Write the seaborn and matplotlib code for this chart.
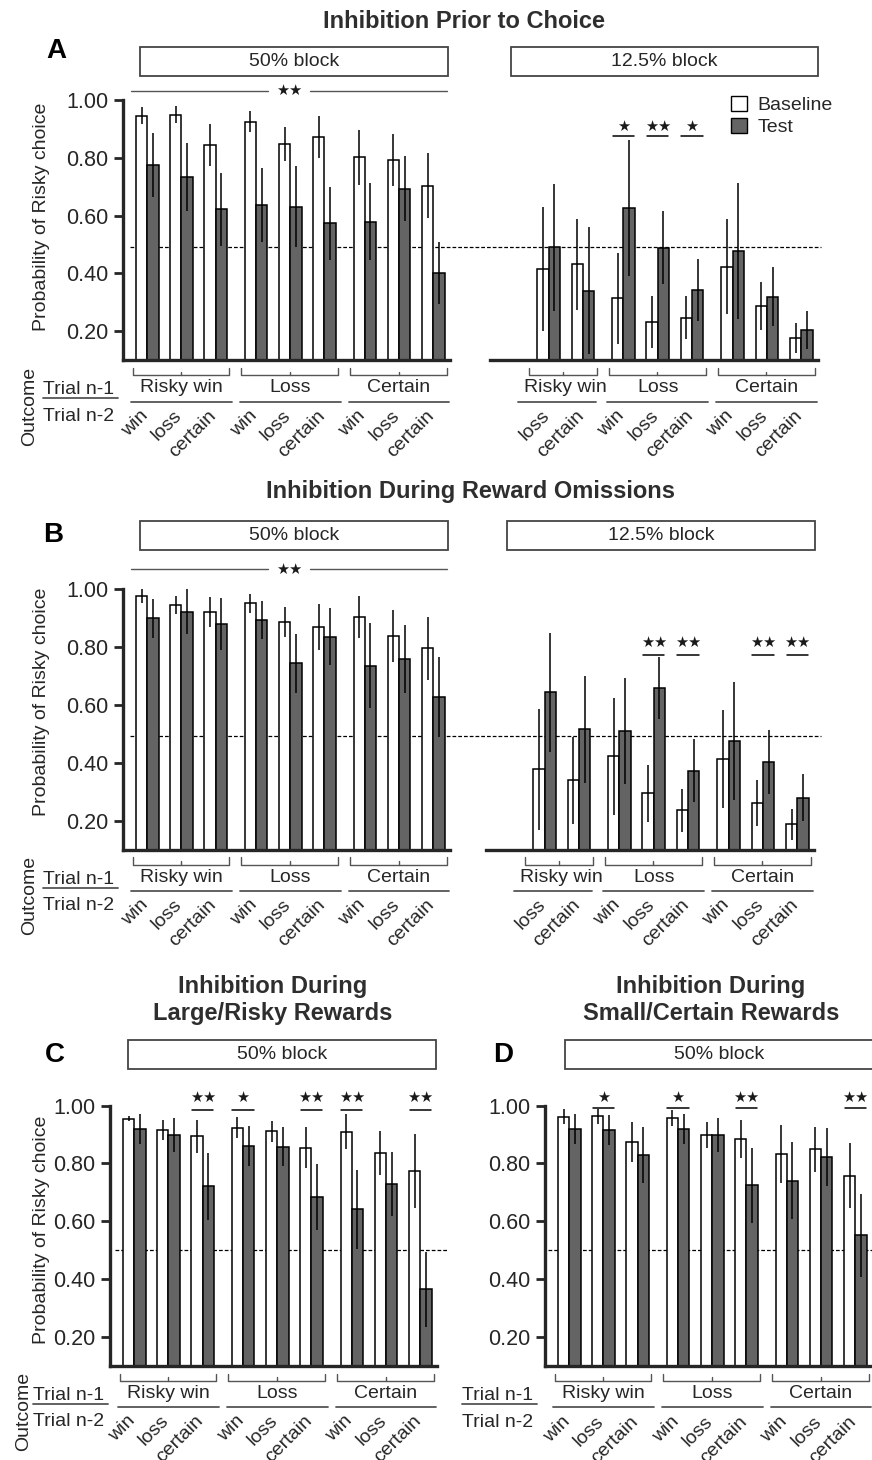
import numpy as np
import pandas as pd
import matplotlib
matplotlib.use("Agg")
import matplotlib.pyplot as plt
import matplotlib.transforms as mtransforms
from matplotlib.patches import Rectangle, Patch
from matplotlib.lines import Line2D
from matplotlib.ticker import FormatStrFormatter
import seaborn as sns

sns.set_style("ticks")
plt.rcParams["font.family"] = ["Liberation Sans", "DejaVu Sans"]

W, H = 872, 1460
TXT = "#262626"
TEST_GREY = "#646464"
GREY_LINE = "#555555"

# outcome of trial n-1 (groups) and trial n-2 (bars inside a group)
prev1 = ["Risky win", "Loss", "Certain"]
prev2 = ["win", "loss", "certain"]
cells_50 = [(g, s) for g in prev1 for s in prev2]
cells_12 = cells_50[1:]  # 12.5% block has no risky win -> win cell

# A: inhibition prior to choice, 50% block
a50_base = [0.946, 0.949, 0.844, 0.925, 0.848, 0.871, 0.801, 0.792, 0.703]
a50_base_err = [0.029, 0.030, 0.073, 0.037, 0.060, 0.073, 0.095, 0.090, 0.113]
a50_test = [0.775, 0.734, 0.621, 0.636, 0.631, 0.573, 0.579, 0.693, 0.402]
a50_test_err = [0.110, 0.118, 0.126, 0.127, 0.140, 0.127, 0.134, 0.113, 0.108]
# A: 12.5% block
a12_base = [0.414, 0.431, 0.313, 0.232, 0.247, 0.423, 0.287, 0.177]
a12_base_err = [0.215, 0.157, 0.158, 0.090, 0.076, 0.165, 0.083, 0.052]
a12_test = [0.490, 0.340, 0.625, 0.489, 0.342, 0.477, 0.319, 0.203]
a12_test_err = [0.219, 0.220, 0.235, 0.126, 0.108, 0.234, 0.103, 0.065]
a12_sig = [(("Loss", "win"), 1), (("Loss", "loss"), 2), (("Loss", "certain"), 1)]

# B: inhibition during reward omissions, 50% block
b50_base = [0.977, 0.946, 0.922, 0.952, 0.887, 0.870, 0.904, 0.839, 0.796]
b50_base_err = [0.023, 0.030, 0.052, 0.033, 0.053, 0.080, 0.073, 0.091, 0.109]
b50_test = [0.900, 0.923, 0.881, 0.894, 0.744, 0.837, 0.736, 0.760, 0.628]
b50_test_err = [0.068, 0.077, 0.090, 0.067, 0.103, 0.098, 0.147, 0.117, 0.140]
# B: 12.5% block
b12_base = [0.377, 0.340, 0.423, 0.294, 0.236, 0.413, 0.262, 0.187]
b12_base_err = [0.209, 0.150, 0.202, 0.100, 0.075, 0.170, 0.079, 0.054]
b12_test = [0.644, 0.516, 0.510, 0.658, 0.373, 0.475, 0.404, 0.280]
b12_test_err = [0.207, 0.186, 0.183, 0.107, 0.110, 0.205, 0.111, 0.080]
b12_sig = [(("Loss", "loss"), 2), (("Loss", "certain"), 2),
           (("Certain", "loss"), 2), (("Certain", "certain"), 2)]

# C: inhibition during large/risky rewards, 50% block
c50_base = [0.955, 0.916, 0.893, 0.923, 0.911, 0.854, 0.910, 0.835, 0.773]
c50_base_err = [0.010, 0.035, 0.058, 0.037, 0.036, 0.071, 0.060, 0.077, 0.127]
c50_test = [0.919, 0.899, 0.720, 0.860, 0.857, 0.683, 0.641, 0.729, 0.364]
c50_test_err = [0.052, 0.059, 0.117, 0.068, 0.068, 0.115, 0.136, 0.110, 0.130]
c50_sig = [(("Risky win", "certain"), 2), (("Loss", "win"), 1), (("Loss", "certain"), 2),
           (("Certain", "win"), 2), (("Certain", "certain"), 2)]

# D: inhibition during small/certain rewards, 50% block
d50_base = [0.962, 0.963, 0.874, 0.958, 0.899, 0.885, 0.832, 0.850, 0.758]
d50_base_err = [0.026, 0.026, 0.068, 0.027, 0.044, 0.066, 0.100, 0.078, 0.113]
d50_test = [0.919, 0.915, 0.830, 0.918, 0.899, 0.725, 0.740, 0.823, 0.551]
d50_test_err = [0.053, 0.052, 0.097, 0.052, 0.060, 0.130, 0.133, 0.101, 0.143]
d50_sig = [(("Risky win", "loss"), 1), (("Loss", "win"), 1), (("Loss", "certain"), 2),
           (("Certain", "certain"), 2)]

GROUP_STEP = 3.18
XLIM = (-0.71, 8.85)

fig = plt.figure(figsize=(W / 100, H / 100), dpi=100)


def fx(px):
    return px / W


def fy(py):
    return 1 - py / H


def cell_x(cell):
    return prev1.index(cell[0]) * GROUP_STEP + prev2.index(cell[1])


def make_axes(left, bottom, width):
    ax = fig.add_axes([fx(left), fy(bottom), width / W, 260 / H])
    ax.set_facecolor("none")
    return ax


def draw_bars(ax, cells, base, base_err, test, test_err, yaxis=True):
    xs = [cell_x(c) for c in cells]
    df = pd.DataFrame({"x": xs + xs, "p": base + test,
                       "cond": ["Baseline"] * len(xs) + ["Test"] * len(xs)})
    sns.barplot(data=df, x="x", y="p", hue="cond", native_scale=True, orient="x",
                palette={"Baseline": "white", "Test": TEST_GREY}, saturation=1,
                width=0.66, gap=0, errorbar=None, edgecolor="black", linewidth=1.1,
                legend=False, ax=ax)
    xs = np.array(xs)
    ax.errorbar(xs - 0.165, base, yerr=base_err, fmt="none", ecolor="black",
                elinewidth=1.1, capsize=0, zorder=3)
    ax.errorbar(xs + 0.165, test, yerr=test_err, fmt="none", ecolor="black",
                elinewidth=1.1, capsize=0, zorder=3)
    ax.set_xlim(*XLIM)
    ax.set_ylim(0.1, 1.0)
    ax.set_xlabel("")
    ax.set_ylabel("")
    ax.set_xticks([])
    sns.despine(ax=ax, left=not yaxis)
    ax.spines["bottom"].set_linewidth(2.4)
    if yaxis:
        ax.spines["left"].set_linewidth(2.4)
        ax.set_yticks([0.2, 0.4, 0.6, 0.8, 1.0])
        ax.yaxis.set_major_formatter(FormatStrFormatter("%.2f"))
        ax.tick_params(axis="y", length=6.5, width=2, labelsize=15.5, pad=4,
                       labelcolor=TXT)
    else:
        ax.set_yticks([])
    ax.tick_params(axis="x", length=0)


def draw_outcomes(ax, cells, bottom):
    tr = mtransforms.blended_transform_factory(ax.transData, fig.transFigure)
    kw = dict(transform=tr, clip_on=False, color=GREY_LINE)
    for g in prev1:
        gx = [cell_x(c) for c in cells if c[0] == g]
        partial = len(gx) < 3
        # bracket
        x0, x1 = min(gx) - (0.58 if partial else 0.43), max(gx) + 0.40
        ax.plot([x0, x0, x1, x1], [fy(bottom + 8), fy(bottom + 15), fy(bottom + 15), fy(bottom + 8)], lw=1, **kw)
        xm = (x0 + x1) / 2
        ax.plot([xm, xm], [fy(bottom + 15), fy(bottom + 11.5)], lw=1, **kw)
        # trial n-1 name and its underline
        ax.text(np.mean(gx), fy(bottom + 28), g, transform=tr, ha="center", va="center",
                fontsize=14, color=TXT)
        u0, u1 = min(gx) - (0.9 if partial else 0.47), max(gx) + (0.37 if partial else 0.47)
        ax.plot([u0, u1], [fy(bottom + 41.5)] * 2, lw=1.3, **kw)
    for c in cells:
        ax.text(cell_x(c) + 0.12, fy(bottom + 47), c[1], transform=tr, rotation=45,
                ha="right", va="top", fontsize=14, color=TXT)


def draw_sig(ax, sig, line_y, star_y):
    tr = mtransforms.blended_transform_factory(ax.transData, fig.transFigure)
    for cell, n in sig:
        x = cell_x(cell)
        ax.plot([x - 0.31, x + 0.31], [fy(line_y)] * 2, transform=tr, clip_on=False,
                color="black", lw=1.1)
        ax.text(x, fy(star_y), "\u2605" * n, transform=tr, ha="center", va="center",
                fontsize=10.5, family="DejaVu Sans", color="#1a1a1a")


def chance_line(ax, y, x0, x1):
    tr = mtransforms.blended_transform_factory(fig.transFigure, ax.transData)
    ax.plot([fx(x0), fx(x1)], [y, y], transform=tr, clip_on=False, color="black",
            lw=0.9, ls=(0, (3, 1.6)), zorder=0.5)


def block_box(x0, x1, y0, y1, label):
    fig.add_artist(Rectangle((fx(x0), fy(y1)), fx(x1) - fx(x0), (y1 - y0) / H,
                             facecolor="white", edgecolor="#444444", lw=1.3))
    fig.text(fx((x0 + x1) / 2), fy((y0 + y1) / 2), label, ha="center", va="center",
             fontsize=14, color=TXT)


def long_sig(y):
    fig.add_artist(Line2D([fx(131), fx(268)], [fy(y)] * 2, color=GREY_LINE, lw=1))
    fig.add_artist(Line2D([fx(310), fx(447)], [fy(y)] * 2, color=GREY_LINE, lw=1))
    fig.text(fx(289), fy(y), "\u2605\u2605", ha="center", va="center", fontsize=10.5,
             family="DejaVu Sans", color="#1a1a1a")


def trial_labels(x, bottom, outcome_x=None):
    fig.text(fx(x), fy(bottom + 30), "Trial n-1", ha="left", va="center", fontsize=14, color=TXT)
    fig.add_artist(Line2D([fx(x), fx(x + 75)], [fy(bottom + 38)] * 2, color=GREY_LINE, lw=1.3))
    fig.text(fx(x), fy(bottom + 56.5), "Trial n-2", ha="left", va="center", fontsize=14, color=TXT)
    if outcome_x is not None:
        fig.text(fx(outcome_x), fy(bottom + 46), "Outcome", rotation=90, ha="center",
                 va="center", fontsize=14, color=TXT)


def ylabel(y):
    fig.text(fx(41), fy(y), "Probability of Risky choice", rotation=90, ha="center",
             va="center", fontsize=14, color=TXT)


title_kw = dict(ha="center", va="baseline", fontsize=17, fontweight="bold", color="#2e2e2e")
letter_kw = dict(ha="left", va="baseline", fontsize=20, fontweight="bold", color="black")

# ---------------- Panel A ----------------
fig.text(fx(464), fy(28.3), "Inhibition Prior to Choice", **title_kw)
fig.text(fx(46), fy(58.3), "A", **letter_kw)
block_box(140, 447.7, 46.7, 76, "50% block")
block_box(510.7, 818, 47.3, 75.7, "12.5% block")
long_sig(90.7)

axA1 = make_axes(123, 360, 327)
draw_bars(axA1, cells_50, a50_base, a50_base_err, a50_test, a50_test_err)
chance_line(axA1, 0.49, 130, 821)
draw_outcomes(axA1, cells_50, 360)
axA2 = make_axes(490, 360, 328)
draw_bars(axA2, cells_12, a12_base, a12_base_err, a12_test, a12_test_err, yaxis=False)
draw_outcomes(axA2, cells_12, 360)
draw_sig(axA2, a12_sig, 136, 126)
axA2.legend(handles=[Patch(facecolor="white", edgecolor="black", lw=1),
                     Patch(facecolor=TEST_GREY, edgecolor="black", lw=1)],
            labels=["Baseline", "Test"], loc="upper left",
            bbox_to_anchor=(fx(731), fy(96)), bbox_transform=fig.transFigure,
            frameon=False, fontsize=14, handlelength=0.8, handleheight=0.8,
            handletextpad=0.55, labelspacing=0.2, borderpad=0, borderaxespad=0,
            labelcolor=TXT)
ylabel(217)
trial_labels(43, 360, outcome_x=30)

# ---------------- Panel B ----------------
fig.text(fx(470), fy(498.3), "Inhibition During Reward Omissions", **title_kw)
fig.text(fx(43), fy(541.7), "B", **letter_kw)
block_box(140, 448, 520.7, 550, "50% block")
block_box(506.7, 815, 520.7, 550, "12.5% block")
long_sig(569.3)

axB1 = make_axes(123, 849.5, 327)
draw_bars(axB1, cells_50, b50_base, b50_base_err, b50_test, b50_test_err)
chance_line(axB1, 0.494, 130, 821)
draw_outcomes(axB1, cells_50, 849.5)
axB2 = make_axes(486, 849.5, 328)
draw_bars(axB2, cells_12, b12_base, b12_base_err, b12_test, b12_test_err, yaxis=False)
draw_outcomes(axB2, cells_12, 849.5)
draw_sig(axB2, b12_sig, 654.7, 642.7)
ylabel(702)
trial_labels(43, 849.5, outcome_x=30)

# ---------------- Panel C ----------------
fig.text(fx(273), fy(993.3), "Inhibition During", **title_kw)
fig.text(fx(273), fy(1020), "Large/Risky Rewards", **title_kw)
fig.text(fx(45), fy(1061.7), "C", **letter_kw)
block_box(127.7, 435.7, 1040, 1069.3, "50% block")

axC = make_axes(110, 1365.5, 327)
draw_bars(axC, cells_50, c50_base, c50_base_err, c50_test, c50_test_err)
chance_line(axC, 0.5, 115, 448)
draw_outcomes(axC, cells_50, 1365.5)
draw_sig(axC, c50_sig, 1110, 1097.3)
ylabel(1230)
trial_labels(33, 1365.5, outcome_x=24)

# ---------------- Panel D ----------------
fig.text(fx(711), fy(993.3), "Inhibition During", **title_kw)
fig.text(fx(711), fy(1020), "Small/Certain Rewards", **title_kw)
fig.text(fx(493), fy(1061.7), "D", **letter_kw)
block_box(565, 874, 1040, 1069.3, "50% block")

axD = make_axes(545, 1365.7, 327)
draw_bars(axD, cells_50, d50_base, d50_base_err, d50_test, d50_test_err)
chance_line(axD, 0.5, 548, 872)
draw_outcomes(axD, cells_50, 1365.7)
draw_sig(axD, d50_sig, 1108, 1097)
trial_labels(461.7, 1365.7)

fig.savefig("out.png", dpi=100)
